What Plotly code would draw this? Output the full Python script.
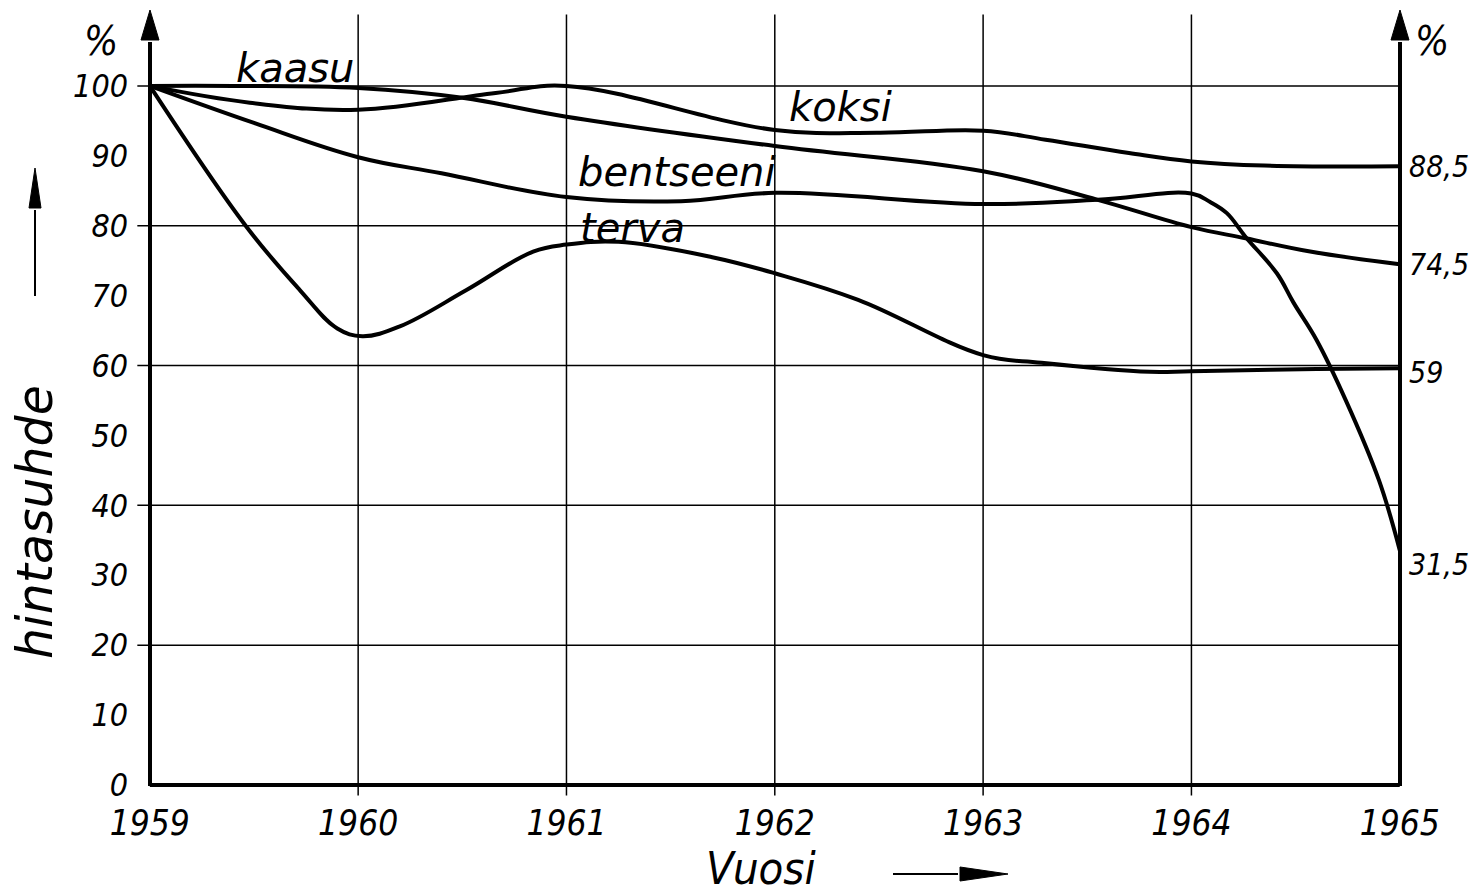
import plotly.graph_objects as go

# ---------------- data ----------------
koksi_x = [1959, 1959.48, 1960, 1960.66, 1961, 1962, 1962.5, 1963, 1963.3, 1963.7, 1964, 1964.35, 1965]
koksi_y = [100, 97.6, 96.6, 99.0, 100.0, 93.7, 93.3, 93.6, 92.3, 90.4, 89.2, 88.6, 88.5]

kaasu_x = [1959, 1959.4, 1960, 1960.5, 1961, 1962, 1963, 1963.55, 1964, 1964.26, 1964.57, 1965]
kaasu_y = [100, 100, 99.7, 98.3, 95.6, 91.4, 87.8, 83.7, 79.8, 78.2, 76.3, 74.5]

bentseeni_x = [1959, 1959.5, 1960, 1960.4, 1961, 1961.55, 1962, 1963, 1963.55, 1964, 1964.09,
               1964.17, 1964.26, 1964.41, 1964.49, 1964.6, 1964.74, 1964.9, 1965]
bentseeni_y = [100, 94.7, 89.8, 87.5, 84.1, 83.5, 84.7, 83.1, 83.7, 84.6, 83.4,
               81.8, 78.4, 73.2, 69.0, 63.7, 55.1, 43.6, 33.6]

terva_x = [1959, 1959.46, 1959.72, 1959.9, 1960.02, 1960.2, 1960.52, 1960.84, 1961, 1961.25,
           1961.7, 1962, 1962.4, 1963, 1963.28, 1963.8, 1964, 1964.6, 1965]
terva_y = [100, 80.0, 70.8, 65.3, 64.2, 65.6, 70.8, 76.3, 77.3, 77.7,
           75.5, 73.2, 69.4, 61.5, 60.4, 59.1, 59.2, 59.5, 59.6]

years = [1959, 1960, 1961, 1962, 1963, 1964, 1965]
y_ticks = [0, 10, 20, 30, 40, 50, 60, 70, 80, 90, 100]
grid_h = [20, 40, 60, 80, 100]
grid_v = [1960, 1961, 1962, 1963, 1964]

end_values = [88.5, 74.5, 59, 31.5]
end_texts = ["88,5", "74,5", "59", "31,5"]

series_names = ["kaasu", "koksi", "bentseeni", "terva"]

# ---------------- layout geometry ----------------
OFF = 8  # page body margin
W, H = 1470, 887
XR = [1958.9, 1965.15]
YR = [-2, 111]
ML, MR, MT, MB = 121, 47, 1, 96
PW = W - ML - MR
PH = H - MT - MB


def px(xr):
    return (xr - OFF - ML) / PW


def py(yr):
    return (H - MB - (yr - OFF)) / PH


DIG = "DejaVu Sans Condensed, Liberation Sans Narrow, DejaVu Sans"
TXT = "DejaVu Sans"
INK = "black"

fig = go.Figure()
for xs, ys in [(koksi_x, koksi_y), (kaasu_x, kaasu_y), (bentseeni_x, bentseeni_y), (terva_x, terva_y)]:
    fig.add_trace(go.Scatter(x=xs, y=ys, mode="lines",
                             line=dict(color=INK, width=4, shape="spline", smoothing=1.1),
                             showlegend=False, hoverinfo="skip"))

shapes = []
for g in grid_h:
    shapes.append(dict(type="line", xref="x", yref="y", x0=1958.94, x1=1965, y0=g, y1=g,
                       line=dict(color=INK, width=1.5), layer="below"))
for g in grid_v:
    shapes.append(dict(type="line", xref="x", yref="y", x0=g, x1=g, y0=-1.5, y1=110.2,
                       line=dict(color=INK, width=1.5), layer="below"))
# bottom axis
shapes.append(dict(type="line", xref="x", yref="y", x0=1959, x1=1965, y0=0, y1=0,
                   line=dict(color=INK, width=4)))


def arrow_up(xc, ytip, ybase, ytail, half, lw):
    out = [dict(type="line", xref="paper", yref="paper", x0=px(xc), x1=px(xc),
                y0=py(ytail), y1=py(ybase + 2), line=dict(color=INK, width=lw))]
    path = "M {a},{b} L {c},{d} L {e},{d} Z".format(
        a=px(xc), b=py(ytip), c=px(xc - half), d=py(ybase), e=px(xc + half))
    out.append(dict(type="path", xref="paper", yref="paper", path=path,
                    fillcolor=INK, line=dict(color=INK, width=1)))
    return out


def arrow_right(yc, xtip, xbase, xtail, half, lw):
    out = [dict(type="line", xref="paper", yref="paper", x0=px(xtail), x1=px(xbase - 2),
                y0=py(yc), y1=py(yc), line=dict(color=INK, width=lw))]
    path = "M {a},{b} L {c},{d} L {c},{e} Z".format(
        a=px(xtip), b=py(yc), c=px(xbase), d=py(yc - half), e=py(yc + half))
    out.append(dict(type="path", xref="paper", yref="paper", path=path,
                    fillcolor=INK, line=dict(color=INK, width=1)))
    return out


# axis lines with arrowheads (left and right)
shapes += arrow_up(150, 10, 40, 786, 9, 4)
shapes += arrow_up(1400, 10, 40, 786, 9, 4)
# arrows next to axis titles
shapes += arrow_up(35, 168, 208, 296, 6, 2)
shapes += arrow_right(874, 1008, 960, 893, 7, 2)

ann = []
lab_pos = {"kaasu": (295, 68), "koksi": (840, 107), "bentseeni": (677, 172), "terva": (632, 228)}
for n in series_names:
    xr, yr = lab_pos[n]
    ann.append(dict(xref="paper", yref="paper", x=px(xr), y=py(yr), text=n, showarrow=False,
                    xanchor="center", yanchor="middle",
                    font=dict(family=TXT, size=40, color=INK, style="italic")))
for v, t in zip(end_values, end_texts):
    ann.append(dict(xref="x", yref="y", x=1965, y=v, text=t, showarrow=False,
                    xanchor="left", yanchor="middle", xshift=7,
                    font=dict(family=DIG, size=30, color=INK, style="italic")))
for xr in [101, 1432]:
    ann.append(dict(xref="paper", yref="paper", x=px(xr), y=py(41), text="%", showarrow=False,
                    xanchor="center", yanchor="middle",
                    font=dict(family=DIG, size=40, color=INK, style="italic")))
ann.append(dict(xref="paper", yref="paper", x=px(761), y=py(868), text="Vuosi", showarrow=False,
                xanchor="center", yanchor="middle",
                font=dict(family=DIG, size=45, color=INK, style="italic")))
ann.append(dict(xref="paper", yref="paper", x=px(35), y=py(522), text="hintasuhde", showarrow=False,
                xanchor="center", yanchor="middle", textangle=-90,
                font=dict(family=TXT, size=49, color=INK, style="italic")))

fig.update_layout(
    width=W, height=H,
    margin=dict(l=ML, r=MR, t=MT, b=MB, pad=0),
    paper_bgcolor="white", plot_bgcolor="white",
    shapes=shapes, annotations=ann,
    xaxis=dict(range=XR, showgrid=False, zeroline=False, showline=False, ticks="",
               tickvals=years, ticktext=[str(y) for y in years],
               tickfont=dict(family=DIG, size=35, color=INK, style="italic")),
    yaxis=dict(range=YR, showgrid=False, zeroline=False, showline=False, ticks="",
               tickvals=y_ticks, ticktext=[str(v) for v in y_ticks],
               tickfont=dict(family=DIG, size=32, color=INK, style="italic")),
)

fig.write_html("out.html")
